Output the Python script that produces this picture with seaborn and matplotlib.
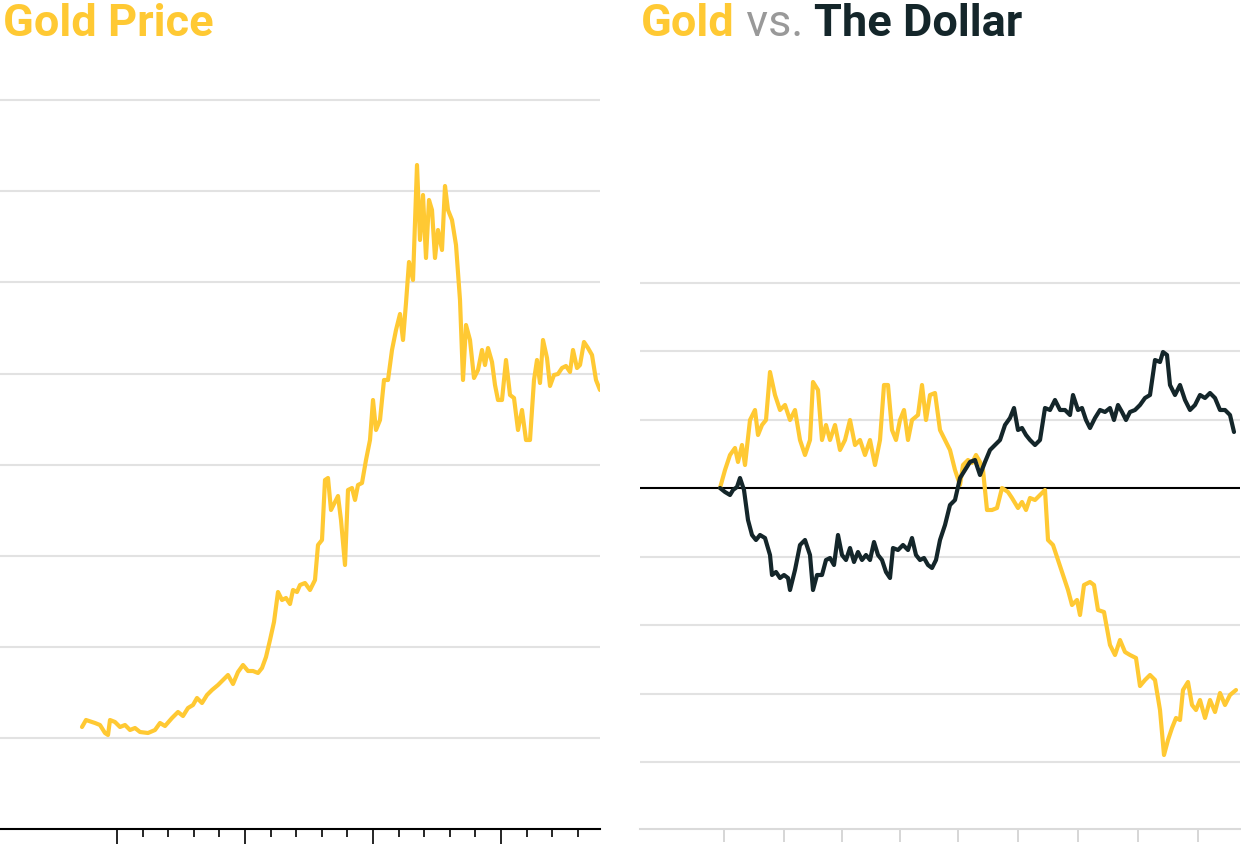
import numpy as np
import pandas as pd
import seaborn as sns
import matplotlib.pyplot as plt

# readings (x position, y position in px)
gold_px = [82, 86, 95, 100, 105, 108, 110, 115, 120, 125, 130, 135, 140, 148, 155, 160, 165, 172, 178, 183,
           188, 193, 197, 202, 207, 212, 218, 223, 228, 233, 238, 243, 248, 253, 258, 262, 266, 270, 274, 278,
           282, 286, 290, 293, 297, 300, 305, 310, 315, 318, 322, 325, 328, 331, 335, 338, 341, 345, 348, 352,
           355, 358, 362, 366, 370, 373, 376, 380, 384, 388, 392, 396, 400, 403, 406, 409, 413, 417, 420, 423,
           426, 429, 432, 435, 438, 442, 445, 448, 452, 456, 460, 463, 466, 470, 474, 478, 482, 485, 488, 492,
           495, 498, 502, 506, 510, 514, 518, 522, 526, 530, 534, 537, 540, 543, 547, 550, 554, 558, 562, 566,
           570, 573, 577, 580, 584, 588, 592, 596, 600]
gold_py = [727, 720, 723, 725, 733, 735, 720, 722, 727, 725, 730, 728, 732, 733, 730, 723, 726, 718, 712, 716,
           708, 705, 698, 703, 695, 690, 685, 680, 675, 684, 672, 665, 671, 671, 673, 668, 657, 640, 622, 592,
           600, 598, 604, 590, 592, 585, 583, 590, 580, 545, 540, 480, 478, 510, 502, 496, 520, 565, 490, 488,
           500, 485, 483, 460, 440, 400, 430, 420, 380, 380, 350, 330, 314, 340, 303, 262, 280, 165, 240, 195,
           258, 200, 210, 258, 230, 250, 186, 210, 220, 245, 300, 380, 325, 340, 378, 370, 350, 365, 348, 362,
           385, 400, 400, 360, 395, 398, 430, 410, 440, 440, 380, 360, 383, 340, 358, 386, 375, 374, 368, 366,
           372, 350, 368, 365, 342, 348, 355, 380, 390]

vs_gold_px = [720, 725, 730, 735, 738, 742, 745, 750, 755, 758, 762, 766, 770, 775, 780, 785, 790, 795, 800, 805,
              810, 813, 818, 822, 826, 830, 835, 840, 845, 850, 855, 860, 865, 870, 875, 880, 884, 888, 892, 896,
              900, 904, 908, 912, 918, 922, 926, 930, 935, 940, 945, 950, 955, 960, 963, 968, 972, 976, 980, 983,
              987, 992, 997, 1002, 1008, 1012, 1018, 1022, 1026, 1030, 1035, 1040, 1045, 1048, 1053, 1058, 1063,
              1068, 1072, 1077, 1080, 1084, 1090, 1094, 1098, 1104, 1110, 1115, 1120, 1125, 1130, 1136, 1140,
              1145, 1150, 1155, 1160, 1164, 1168, 1172, 1176, 1180, 1183, 1188, 1192, 1196, 1200, 1205, 1210,
              1215, 1220, 1225, 1230, 1236]
vs_gold_py = [488, 470, 455, 448, 462, 445, 465, 420, 410, 435, 425, 420, 372, 395, 410, 405, 420, 410, 440, 455,
              440, 382, 390, 440, 425, 440, 425, 450, 440, 420, 445, 440, 455, 440, 465, 440, 385, 385, 430, 440,
              420, 410, 440, 420, 415, 385, 420, 395, 393, 430, 440, 450, 470, 485, 465, 460, 463, 455, 462, 470,
              510, 510, 508, 488, 492, 498, 508, 502, 510, 498, 500, 495, 490, 540, 545, 560, 575,
              590, 605, 600, 615, 585, 582, 585, 610, 612, 645, 655, 640, 652, 655, 658, 686,
              680, 675, 680, 710, 755, 740, 728, 718, 720, 690, 682, 705, 710, 700, 718, 700,
              712, 693, 705, 695, 690]

dollar_px = [720, 725, 730, 733, 737, 740, 744, 748, 752, 756, 760, 765, 770, 772, 776, 780, 784, 788, 790, 795,
             800, 805, 810, 813, 817, 822, 826, 830, 834, 838, 842, 846, 850, 854, 858, 862, 866, 870, 874, 878,
             882, 886, 890, 893, 898, 903, 908, 912, 916, 920, 924, 928, 932, 936, 940, 945, 950, 955, 960, 965,
             970, 975, 980, 985, 990, 995, 1000, 1005, 1010, 1014, 1018, 1022, 1026, 1030, 1035, 1040, 1045,
             1050, 1055, 1060, 1065, 1070, 1073, 1078, 1082, 1086, 1090, 1095, 1100, 1105, 1110, 1114, 1118,
             1122, 1126, 1130, 1135, 1140, 1145, 1150, 1155, 1160, 1163, 1167, 1170, 1175, 1180, 1185, 1190,
             1195, 1200, 1205, 1210, 1215, 1220, 1225, 1230, 1234]
dollar_py = [488, 492, 495, 490, 487, 478, 490, 520, 535, 540, 535, 538, 555, 575, 572, 578, 575, 578, 590, 570,
             545, 540, 555, 590, 575, 575, 560, 558, 565, 535, 555, 560, 548, 562, 552, 560, 555, 560, 542, 555,
             560, 572, 578, 548, 550, 545, 550, 538, 555, 560, 558, 565, 568, 560, 540, 525, 505, 500, 478, 470,
             462, 460, 475, 462, 450, 445, 440, 425, 418, 408, 430, 428, 435, 440, 445, 440, 408,
             410, 400, 410, 410, 415, 395, 410, 408, 420, 428, 418, 410, 412, 408, 420, 405,
             412, 420, 412, 410, 405, 398, 395, 360, 362, 352, 355, 385, 395, 385, 400, 410,
             405, 395, 398, 393, 398, 410, 410, 415, 432]

YELLOW = "#FFC933"
DARK = "#14262A"
GRID = "#E2E2E2"

left = pd.DataFrame({"x": gold_px, "v": (829 - np.array(gold_py)) / 91.1})
g2 = pd.DataFrame({"x": vs_gold_px, "v": (488 - np.array(vs_gold_py)) / 68.5})
d2 = pd.DataFrame({"x": dollar_px, "v": (488 - np.array(dollar_py)) / 68.5})

sns.set_theme(style="white")
plt.rcParams["font.family"] = ["Roboto", "DejaVu Sans"]

W, H = 1241, 844
fig = plt.figure(figsize=(W / 100, H / 100), dpi=100)
ax1 = fig.add_axes([0 / W, 1 - 829 / H, 600 / W, 769 / H])
ax2 = fig.add_axes([640 / W, 1 - 829 / H, 600 / W, 769 / H])

# left panel
for k in range(1, 9):
    ax1.axhline(k, color=GRID, lw=1.5, zorder=0)
sns.lineplot(data=left, x="x", y="v", ax=ax1, color=YELLOW, lw=3)
ax1.set_xlim(0, 600)
ax1.set_ylim(0, 769 / 91.1)
ax1.set_xticks([117 + 25.6 * k for k in range(19) if 117 + 25.6 * k < 600])
ax1.tick_params(axis="x", length=6, width=1.2, color="black", bottom=True, labelbottom=False)
for i, t in enumerate(ax1.xaxis.get_major_ticks()):
    if i % 5 == 0:
        t.tick1line.set_markersize(13)
ax1.set_yticks([])

# right panel
for k in range(-4, 4):
    if k != 0:
        ax2.axhline(k, color=GRID, lw=1.5, zorder=0)
ax2.axhline(0, color="black", lw=1.5, zorder=1)
sns.lineplot(data=g2, x="x", y="v", ax=ax2, color=YELLOW, lw=3)
sns.lineplot(data=d2, x="x", y="v", ax=ax2, color=DARK, lw=3)
ax2.set_xlim(640, 1240)
ax2.set_ylim(-341 / 68.5, 428 / 68.5)
ax2.set_xticks([724, 784, 842, 900, 958, 1018, 1078, 1138, 1198])
ax2.tick_params(axis="x", length=9, width=1.2, color="#CFCFCF", bottom=True, labelbottom=False)
ax2.set_yticks([])

for ax, c in [(ax1, "black"), (ax2, "#DADADA")]:
    for s in ["top", "left", "right"]:
        ax.spines[s].set_visible(False)
    ax.spines["bottom"].set_color(c)
    ax.spines["bottom"].set_linewidth(1.5)
    ax.set_xlabel("")
    ax.set_ylabel("")

# titles
fig.text(3 / W, 1 - 36 / H, "Gold Price", color=YELLOW, fontsize=32.5, fontweight="bold")
fig.canvas.draw()
r = fig.canvas.get_renderer()
x = 641 / W
for txt, col, wt in [("Gold", YELLOW, "bold"), (" vs. ", "#999999", "normal"), ("The Dollar", DARK, "bold")]:
    t = fig.text(x, 1 - 36 / H, txt, color=col, fontsize=32.5, fontweight=wt)
    x += t.get_window_extent(r).width / W

fig.savefig("out.png", dpi=100)
